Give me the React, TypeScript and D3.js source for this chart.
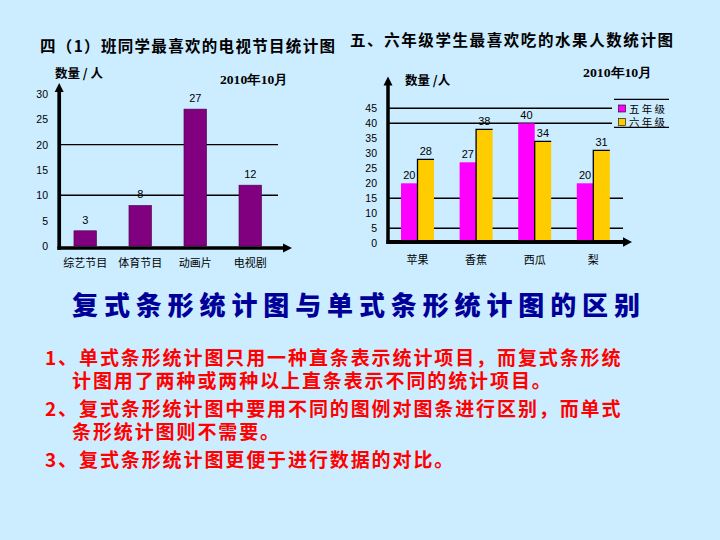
import React from 'react';
import * as d3 from 'd3';

const tvCategories = ['综艺节目', '体育节目', '动画片', '电视剧'];
const tvValues = [3, 8, 27, 12];
const tvTicks = [0, 5, 10, 15, 20, 25, 30];
const tvGrid = [10, 20];

const fruitCategories = ['苹果', '香蕉', '西瓜', '梨'];
const seriesNames = ['五年级', '六年级'];
const grade5Values = [20, 27, 40, 20];
const grade6Values = [28, 38, 34, 31];
const fruitTicks = [0, 5, 10, 15, 20, 25, 30, 35, 40, 45];
const fruitGridShort = [40, 45];
const fruitGridLong = [5, 15];

const bodyLines = [
  { text: '1、单式条形统计图只用一种直条表示统计项目，而复式条形统', indent: false },
  { text: '计图用了两种或两种以上直条表示不同的统计项目。', indent: true },
  { text: '2、复式条形统计图中要用不同的图例对图条进行区别，而单式', indent: false },
  { text: '条形统计图则不需要。', indent: true },
  { text: '3、复式条形统计图更便于进行数据的对比。', indent: false },
];

const CJK = '"Noto Sans CJK SC", "Noto Sans", sans-serif';
const SANS = '"Liberation Sans", Arial, sans-serif';
const SERIF = '"Liberation Serif", "Times New Roman", serif';

export default function App() {
  // Left chart scales
  const ly = d3.scaleLinear().domain([0, 30]).range([246, 93.9]);
  const lx = d3.scaleBand<string>().domain(tvCategories).range([41.5, 294]).padding(0.59);

  // Right chart scales
  const ry = d3.scaleLinear().domain([0, 45]).range([243.3, 108.3]);
  const rx = d3.scaleBand<string>().domain(fruitCategories).range([375.4, 635.4]).padding(0.437);
  const rInner = d3.scaleBand<string>().domain(seriesNames).range([0, rx.bandwidth()]);
  const seriesColors = d3.scaleOrdinal<string, string>().domain(seriesNames).range(['#FF00FF', '#FFCC00']);
  const seriesValues = [grade5Values, grade6Values];

  const bodyY = [358, 381, 409, 432, 460];

  return (
    <svg width={720} height={540} style={{ position: 'fixed', left: 0, top: 0 }}>
      <rect x={0} y={0} width={720} height={540} fill="#CCECFF" />

      {/* ===== Left chart ===== */}
      <text x={40} y={52} fontFamily={CJK} fontWeight={700} fontSize={15.5} fill="#000" textLength={295} lengthAdjust="spacing">
        四（1）班同学最喜欢的电视节目统计图
      </text>
      <text x={55} y={78} fontFamily={CJK} fontWeight={700} fontSize={12.5} fill="#000">数量 / 人</text>
      <text x={220} y={84} fontFamily={SERIF} fontWeight={700} fontSize={13} fill="#000" textLength={68} lengthAdjust="spacingAndGlyphs">2010年10月</text>

      {tvGrid.map((v) => (
        <line key={'lg' + v} x1={59} x2={278} y1={ly(v)} y2={ly(v)} stroke="#000" strokeWidth={1.4} />
      ))}
      {tvTicks.map((v) => (
        <text key={'lt' + v} x={48} y={ly(v) + 4} textAnchor="end" fontFamily={SANS} fontSize={10.5} fill="#000">{v}</text>
      ))}
      {tvCategories.map((c, i) => (
        <g key={'lb' + c}>
          <rect x={lx(c)} y={ly(tvValues[i])} width={lx.bandwidth()} height={ly(0) - ly(tvValues[i])} fill="#800080" stroke="#4a004a" strokeWidth={0.6} />
          <text x={(lx(c) as number) + lx.bandwidth() / 2} y={ly(tvValues[i]) - 7} textAnchor="middle" fontFamily={SANS} fontSize={11} fill="#000">{tvValues[i]}</text>
          <text x={(lx(c) as number) + lx.bandwidth() / 2} y={267} textAnchor="middle" fontFamily={CJK} fontSize={11} fill="#000">{c}</text>
        </g>
      ))}
      {/* axes */}
      <line x1={59.2} x2={59.2} y1={90} y2={249.7} stroke="#000" strokeWidth={3.7} />
      <path d="M59.2,83 L54.7,92 L63.7,92 Z" fill="#000" />
      <line x1={57.5} x2={285} y1={248} y2={248} stroke="#000" strokeWidth={3.5} />
      <path d="M292,248 L283,243.5 L283,252.5 Z" fill="#000" />

      {/* ===== Right chart ===== */}
      <text x={350} y={46} fontFamily={CJK} fontWeight={700} fontSize={15.5} fill="#000" textLength={323} lengthAdjust="spacing">
        五、六年级学生最喜欢吃的水果人数统计图
      </text>
      <text x={583} y={77} fontFamily={SERIF} fontWeight={700} fontSize={13} fill="#000" textLength={69} lengthAdjust="spacingAndGlyphs">2010年10月</text>
      <text x={405} y={85} fontFamily={CJK} fontWeight={700} fontSize={12.5} fill="#000">数量 /人</text>

      {fruitGridShort.map((v) => (
        <line key={'rgs' + v} x1={388} x2={612} y1={ry(v)} y2={ry(v)} stroke="#000" strokeWidth={1.4} />
      ))}
      {fruitGridLong.map((v) => (
        <line key={'rgl' + v} x1={388} x2={623} y1={ry(v)} y2={ry(v)} stroke="#000" strokeWidth={1.4} />
      ))}
      {fruitTicks.map((v) => (
        <text key={'rt' + v} x={377} y={ry(v) + 4} textAnchor="end" fontFamily={SANS} fontSize={10.5} fill="#000">{v}</text>
      ))}

      {fruitCategories.map((c, i) => (
        <g key={'rb' + c}>
          {seriesNames.map((s, k) => {
            const v = seriesValues[k][i];
            const x = (rx(c) as number) + (rInner(s) as number);
            const w = rInner.bandwidth();
            const y = ry(v);
            return (
              <g key={s}>
                <rect x={x} y={y} width={w} height={ry(0) - y} fill={seriesColors(s)} />
                {k === 1 && (
                  <path d={`M${x},${ry(0)} L${x},${y} L${x + w},${y}`} fill="none" stroke="#000" strokeWidth={1.3} />
                )}
                <text x={x + w / 2} y={y - 4.5} textAnchor="middle" fontFamily={SANS} fontSize={11} fill="#000">{v}</text>
              </g>
            );
          })}
          <text x={(rx(c) as number) + rx.bandwidth() / 2} y={264} textAnchor="middle" fontFamily={CJK} fontSize={11} fill="#000">{c}</text>
        </g>
      ))}

      {/* legend */}
      <line x1={614} x2={669} y1={99.3} y2={99.3} stroke="#000" strokeWidth={1.3} />
      <line x1={614} x2={669} y1={127.3} y2={127.3} stroke="#000" strokeWidth={1.3} />
      {seriesNames.map((s, k) => (
        <g key={'lg' + s}>
          <rect x={618.5} y={105 + k * 13.5} width={7} height={7} fill={seriesColors(s)} stroke="#000" strokeWidth={0.6} />
          <text x={629} y={112.5 + k * 13.5} fontFamily={CJK} fontSize={10.5} fill="#000" textLength={36} lengthAdjust="spacing">{s}</text>
        </g>
      ))}

      {/* axes */}
      <line x1={388} x2={388} y1={83} y2={244} stroke="#000" strokeWidth={3.5} />
      <path d="M388,76.5 L383.5,85.5 L392.5,85.5 Z" fill="#000" />
      <line x1={386.5} x2={625} y1={242} y2={242} stroke="#000" strokeWidth={4} />
      <path d="M632,242 L623,237.3 L623,246.7 Z" fill="#000" />

      {/* ===== Bottom text ===== */}
      <text x={72} y={315} fontFamily={CJK} fontWeight={900} fontSize={26} fill="#000099" textLength={568} lengthAdjust="spacing">
        复式条形统计图与单式条形统计图的区别
      </text>
      {bodyLines.map((l, i) => (
        <text key={'bl' + i} x={l.indent ? 72 : 45} y={bodyY[i] + 6.8} fontFamily={CJK} fontWeight={700} fontSize={19} letterSpacing={1.9} fill="#FF0000">
          {l.text}
        </text>
      ))}
    </svg>
  );
}
